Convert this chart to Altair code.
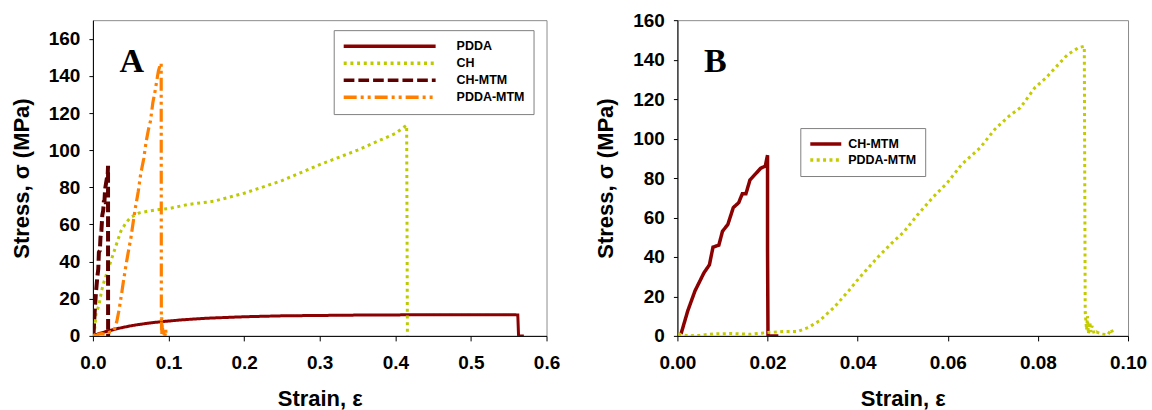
import altair as alt
import pandas as pd

FONT = "Liberation Sans"

# ---- tensile curves (strain, stress in MPa) ----
pdda_strain = [0, 0.005, 0.01, 0.02, 0.03, 0.04, 0.05, 0.06, 0.08, 0.10, 0.12, 0.15,
               0.20, 0.25, 0.30, 0.35, 0.40, 0.45, 0.50, 0.55, 0.562, 0.563, 0.570]
pdda_stress = [0, 0.8, 1.5, 2.6, 3.7, 4.6, 5.4, 6.1, 7.2, 8.0, 8.7, 9.5,
               10.3, 10.8, 11.0, 11.2, 11.3, 11.4, 11.4, 11.4, 11.3, 0, 0]

ch_strain = [0, 0.0026, 0.004, 0.0083, 0.0114, 0.0149, 0.0194, 0.026, 0.0317, 0.037,
             0.0436, 0.0502, 0.0612, 0.0723, 0.0876, 0.10, 0.125, 0.16, 0.20, 0.25,
             0.30, 0.35, 0.40, 0.415, 0.416]
ch_stress = [0, 4.5, 11.6, 17.0, 24.2, 29.5, 34.9, 43.0, 50.0, 56.4,
             60.8, 63.9, 66.2, 67.1, 68.0, 68.5, 70.7, 72.5, 76.8, 83.6,
             92.2, 100.0, 109.0, 113.4, 0]

chmtm_strain = [0.0008, 0.0023, 0.0039, 0.0059, 0.0071, 0.0079, 0.0092, 0.0100, 0.0112,
                0.0124, 0.0136, 0.0144, 0.0152, 0.0161, 0.0173, 0.0185, 0.0195, 0.0200,
                0.0200, 0.0201, 0.0210, 0.0224]
chmtm_stress = [1.0, 12.7, 22.8, 32.0, 36.0, 45.0, 46.0, 53.0, 56.5,
                65.0, 67.5, 72.0, 72.0, 79.0, 82.0, 85.0, 86.0, 91.6,
                45.0, 0, 0, 0]

pddamtm_strain = [0.0002, 0.0023, 0.005, 0.008, 0.012, 0.016, 0.020, 0.0234, 0.0266, 0.029,
                  0.0315, 0.0347, 0.038, 0.0404, 0.0444, 0.0477, 0.0501, 0.0534, 0.0566,
                  0.0599, 0.0631, 0.0672, 0.0704, 0.0736, 0.0761, 0.0793, 0.0818, 0.0842,
                  0.0866, 0.089, 0.0903, 0.0905, 0.0908, 0.0910, 0.0912, 0.0915, 0.0918,
                  0.0920, 0.0925, 0.0930, 0.0940, 0.0955, 0.0963, 0.0968]
pddamtm_stress = [1.0, 0, 0.3, 1.0, 1.2, 0.8, 1.7, 2.2, 2.2, 4.2,
                  7.6, 14.3, 22.8, 29.5, 39.7, 47.3, 52.3, 61.6, 70.0,
                  77.6, 86.9, 95.4, 104.6, 111.4, 115.6, 125.7, 130.8, 136.7,
                  142.6, 146.0, 146.8, 12.0, 3.0, 10.0, 1.0, 7.0, 2.0,
                  5.0, 1.0, 2.0, 1.0, 0.5, 3.4, 0]

# ---- series styling ----
series_a = ["PDDA", "CH", "CH-MTM", "PDDA-MTM"]
colors_a = ["#8b0000", "#bccb00", "#5e0000", "#ff8000"]
dashes_a = [[1, 0], [3, 3.7], [10.7, 4], [13, 4, 3, 4, 3, 4]]
widths_a = [3, 3, 4, 3.2]
curves_a = [(pdda_strain, pdda_stress), (ch_strain, ch_stress),
            (chmtm_strain, chmtm_stress), (pddamtm_strain, pddamtm_stress)]

series_b = ["CH-MTM", "PDDA-MTM"]
colors_b = ["#8b0000", "#c4cc00"]
dashes_b = [[1, 0], [3, 3.4]]
widths_b = [3.5, 3]
curves_b = [(chmtm_strain, chmtm_stress), (pddamtm_strain, pddamtm_stress)]

y_ticks = [0, 20, 40, 60, 80, 100, 120, 140, 160]
x_ticks_a = [0, 0.1, 0.2, 0.3, 0.4, 0.5, 0.6]
x_ticks_b = [0, 0.02, 0.04, 0.06, 0.08, 0.10]

panel_labels = ["A", "B"]
panel_label_pos = [(0.0515, 147.7), (0.0084, 139.0)]


def curve_frame(name, xs, ys):
    return pd.DataFrame({"series": name, "strain": xs, "stress": ys,
                         "step": list(range(len(xs)))})


def panel(series, colors, dashes, widths, curves, x_dom, x_vals, x_fmt, y_max,
          legend, width, label, label_pos):
    x_enc = alt.X("strain:Q", scale=alt.Scale(domain=x_dom, nice=False, zero=False),
                  axis=alt.Axis(values=x_vals, format=x_fmt, title="Strain, ε",
                                labelOverlap=False, labelFlush=False))
    y_enc = alt.Y("stress:Q", scale=alt.Scale(domain=[0, y_max], nice=False, zero=False),
                  axis=alt.Axis(values=y_ticks, format="d", title="Stress, σ (MPa)",
                                labelOverlap=False, labelFlush=False))
    color = alt.Color("series:N", scale=alt.Scale(domain=series, range=colors),
                      legend=legend)
    dash = alt.StrokeDash("series:N", scale=alt.Scale(domain=series, range=dashes),
                          legend=legend)
    layers = []
    for name, w, (xs, ys) in zip(series, widths, curves):
        layers.append(
            alt.Chart(curve_frame(name, xs, ys))
            .mark_line(strokeWidth=w, clip=True)
            .encode(x=x_enc, y=y_enc, color=color, strokeDash=dash,
                    order="step:Q")
        )
    tag = pd.DataFrame({"strain": [label_pos[0]], "stress": [label_pos[1]],
                        "text": [label]})
    layers.append(
        alt.Chart(tag).mark_text(font="Liberation Serif", fontSize=34,
                                 fontWeight="bold", color="black",
                                 baseline="middle", align="center")
        .encode(x=x_enc, y=y_enc, text="text:N")
    )
    return alt.layer(*layers).properties(width=width, height=316)


legend_a = alt.Legend(
    title=None, orient="none", legendX=241, legendY=10,
    symbolType="stroke", symbolSize=92 * 92, symbolStrokeWidth=3.5,
    clipHeight=16.3, rowPadding=0, padding=8, labelOffset=19,
    labelFont=FONT, labelFontSize=12.5, labelFontWeight="bold", labelColor="black",
    strokeColor="#7f7f7f", fillColor="white",
)
legend_b = alt.Legend(
    title=None, orient="none", legendX=123, legendY=108,
    symbolType="stroke", symbolSize=31 * 31, symbolStrokeWidth=3.5,
    clipHeight=16, rowPadding=0, padding=8, labelOffset=5,
    labelFont=FONT, labelFontSize=12.5, labelFontWeight="bold", labelColor="black",
    strokeColor="#7f7f7f", fillColor="white",
)

panel_a = panel(series_a, colors_a, dashes_a, widths_a, curves_a, [0, 0.6], x_ticks_a,
                ".1f", 170, legend_a, 454, panel_labels[0], panel_label_pos[0])
panel_b = panel(series_b, colors_b, dashes_b, widths_b, curves_b, [0, 0.1], x_ticks_b,
                ".2f", 160, legend_b, 451, panel_labels[1], panel_label_pos[1])

chart = (
    alt.hconcat(panel_a, panel_b, spacing=131, bounds="flush")
    .resolve_scale(color="independent", strokeDash="independent")
    .properties(padding={"left": 9, "top": 10, "right": 5, "bottom": 0},
                background="white")
    .configure_view(stroke="#8c8c8c", strokeWidth=1)
    .configure_axis(
        labelFont=FONT, labelFontSize=19, labelFontWeight="bold", labelColor="black",
        titleFont=FONT, titleFontSize=22, titleFontWeight="bold", titleColor="black",
        domainColor="black", tickColor="black", grid=False,
    )
    .configure_axisX(tickSize=5, labelPadding=13, titlePadding=16)
    .configure_axisY(tickSize=4, labelPadding=9, titlePadding=15)
)

chart.save("out.html", embed_options={"renderer": "svg", "actions": False})
